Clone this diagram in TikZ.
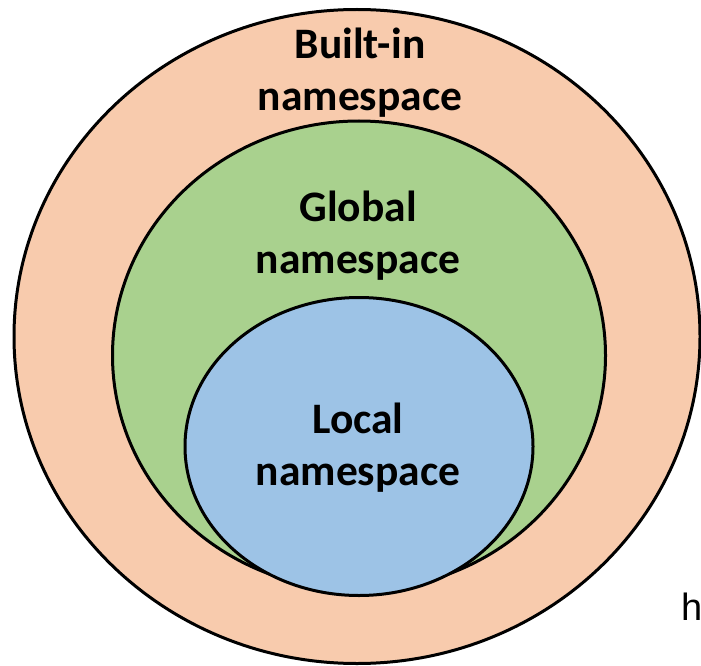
\documentclass[tikz,border=0pt]{standalone}
\usepackage{fontspec}
\setmainfont{Carlito}
\newfontfamily\hfont{Liberation Sans}
\definecolor{builtin}{HTML}{F8CBAD}
\definecolor{globalc}{HTML}{A9D18E}
\definecolor{localc}{HTML}{9DC3E6}
\begin{document}
\begin{tikzpicture}[x=1pt,y=-1pt,
  ns/.style={draw=black,line width=3pt},
  lbl/.style={font=\fontsize{43.5}{52}\selectfont\bfseries,align=center,inner sep=0pt}]
\useasboundingbox (0,0) rectangle (701,666);
\fill[white] (0,0) rectangle (701,666);
\draw[ns,fill=builtin] (357,336.5) ellipse [x radius=343, y radius=327];
\draw[ns,fill=globalc] (359,355.5) ellipse [x radius=246.5, y radius=234.5];
\draw[ns,fill=localc] (359,446.5) ellipse [x radius=174, y radius=149];
\node[lbl] (builtin) at (360,73) {Built-in\\namespace};
\node[lbl] (global) at (358,236) {Global\\namespace};
\node[lbl] (local) at (358,448) {Local\\namespace};
\node[anchor=base west,inner sep=0pt,font=\hfont\fontsize{38}{40}\selectfont] (h) at (681,620) {h};
\end{tikzpicture}
\end{document}
